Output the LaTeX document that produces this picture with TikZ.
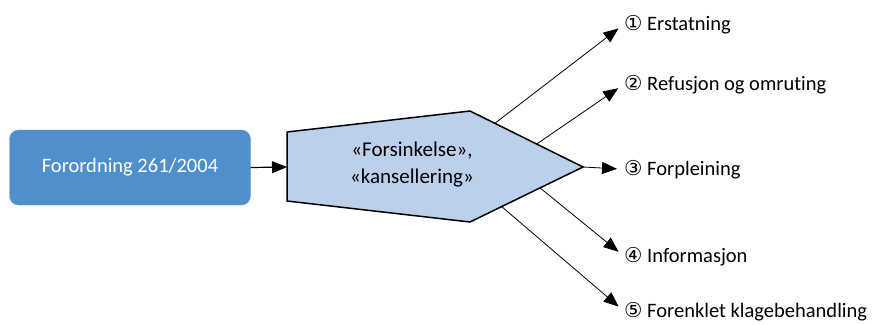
\documentclass[tikz,border=0pt]{standalone}
\usepackage{fontspec}
\setmainfont{Carlito}[Ligatures=NoCommon]
\newfontfamily\circfont{DejaVu Sans}
\usepackage{tikz}
\usetikzlibrary{arrows.meta,calc}
\definecolor{regblau}{RGB}{79,143,204}
\definecolor{hendblau}{RGB}{188,208,235}
\tikzset{
    lab/.style={anchor=base west, inner sep=0pt, font=\fontsize{20.5}{24}\selectfont},
    pil/.style={-{Triangle[length=15pt,width=12pt]}, line width=0.8pt, shorten >=7pt}
}
\newcommand{\nr}[1]{{\circfont #1}\ }
\begin{document}
\begin{tikzpicture}[
        x=1pt, y=-1pt,
        regbox/.style={fill=regblau, draw=regblau!80!white, rounded corners=9pt, minimum width=241pt, minimum height=75pt, text=white, font=\fontsize{20.5}{24}\selectfont},
        hend/.style={fill=hendblau, draw=black, line width=1.5pt, line join=miter}
    ]
        \useasboundingbox (0,0) rectangle (875,324);
        % forordning
        \node[regbox] (reg) at (130,167.5) {Forordning 261/2004};
        % hendelse (femkant)
        \coordinate (pTL) at (287,132);
        \coordinate (pT) at (470,111);
        \coordinate (pTip) at (583,167);
        \coordinate (pB) at (470,222);
        \coordinate (pBL) at (287,201);
        \coordinate (pL) at (287,167);
        \draw[hend] (pTL) -- (pT) -- (pTip) -- (pB) -- (pBL) -- cycle;
        \node[align=center, font=\fontsize{21}{27}\selectfont] (evt) at (412,165) {«Forsinkelse»,\\«kansellering»};
        \draw[-{Triangle[length=15pt,width=12pt]}, line width=1.2pt] (reg.east) -- (pL);
        % rettigheter
        \node[lab] (r1) at (624,30) {\nr{①}Erstatning};
        \node[lab] (r2) at (624,90) {\nr{②}Refusjon og omruting};
        \node[lab] (r3) at (624,175) {\nr{③}Forpleining};
        \node[lab] (r4) at (624,262) {\nr{④}Informasjon};
        \node[lab] (r5) at (624,317) {\nr{⑤}Forenklet klagebehandling};
        \coordinate (s1) at ($(pT)!0.22!(pTip)$);
        \coordinate (s2) at ($(pT)!0.59!(pTip)$);
        \coordinate (s4) at ($(pTip)!0.38!(pB)$);
        \coordinate (s5) at ($(pTip)!0.72!(pB)$);
        \draw[pil] (s1) -- (r1.west);
        \draw[pil] (s2) -- (r2.west);
        \draw[pil] (pTip) -- (r3.west);
        \draw[pil] (s4) -- (r4.west);
        \draw[pil] (s5) -- (r5.west);
    \end{tikzpicture}
\end{document}
